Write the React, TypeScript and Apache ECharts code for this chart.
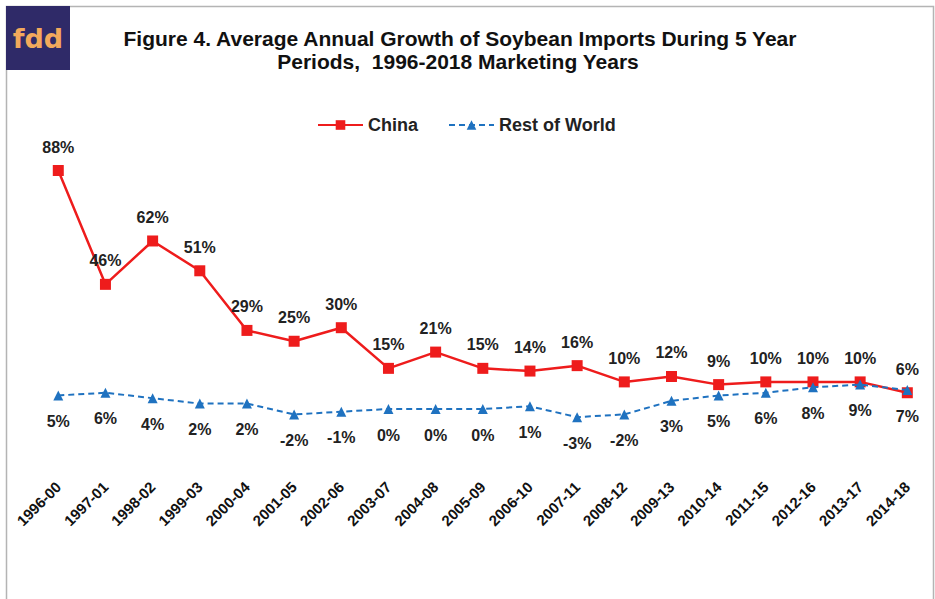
import React, { useEffect, useRef } from "react";
import * as echarts from "echarts";

// Five-year marketing-year windows
const periods = [
  "1996-00", "1997-01", "1998-02", "1999-03", "2000-04", "2001-05", "2002-06",
  "2003-07", "2004-08", "2005-09", "2006-10", "2007-11", "2008-12", "2009-13",
  "2010-14", "2011-15", "2012-16", "2013-17", "2014-18",
];

// Average annual growth of soybean imports, percent
const chinaGrowth = [88, 46, 62, 51, 29, 25, 30, 15, 21, 15, 14, 16, 10, 12, 9, 10, 10, 10, 6];
const restOfWorldGrowth = [5, 6, 4, 2, 2, -2, -1, 0, 0, 0, 1, -3, -2, 3, 5, 6, 8, 9, 7];

const titleLines = [
  "Figure 4. Average Annual Growth of Soybean Imports During 5 Year",
  "Periods,  1996-2018 Marketing Years",
];

const RED = "#ee1c1c";
const BLUE = "#1f72c0";
const FONT = "'Liberation Sans', Arial, sans-serif";

export default function App() {
  const ref = useRef<HTMLDivElement>(null);

  useEffect(() => {
    if (!ref.current) return;
    const chart = echarts.init(ref.current, undefined, { renderer: "svg" });
    chart.setOption({
      animation: false,
      backgroundColor: "#ffffff",
      textStyle: { fontFamily: FONT },
      graphic: [
        // frame around the figure
        {
          type: "polyline",
          shape: { points: [[6.5, 599], [6.5, 6.5], [933.5, 6.5], [933.5, 599]] },
          style: { stroke: "#b4b4b4", lineWidth: 1.5, fill: "none" },
          z: 0,
        },
        // logo block
        {
          type: "rect",
          shape: { x: 6, y: 6, width: 64, height: 64 },
          style: { fill: "#2f2a68" },
          z: 5,
        },
        {
          type: "text",
          x: 38,
          y: 38,
          style: {
            text: "fdd",
            fill: "#f2a95c",
            font: "bold 27px 'DejaVu Sans', sans-serif",
            align: "center",
            verticalAlign: "middle",
          },
          z: 6,
        },
        {
          type: "text",
          x: 460,
          y: 38,
          style: {
            text: titleLines[0],
            fill: "#111111",
            font: `bold 21px ${FONT}`,
            align: "center",
            verticalAlign: "middle",
          },
        },
        {
          type: "text",
          x: 458,
          y: 61,
          style: {
            text: titleLines[1],
            fill: "#111111",
            font: `bold 21px ${FONT}`,
            align: "center",
            verticalAlign: "middle",
          },
        },
      ],
      legend: {
        left: 312,
        top: 111,
        itemWidth: 45,
        itemHeight: 12,
        itemGap: 30,
        textStyle: { fontSize: 18, fontWeight: "bold", color: "#222222", fontFamily: FONT },
        data: ["China", "Rest of World"],
      },
      grid: { left: 34.7, right: 4.1, top: 165.1, bottom: 135.8, containLabel: false },
      xAxis: {
        type: "category",
        data: periods,
        boundaryGap: true,
        axisLine: { show: false },
        axisTick: { show: false },
        axisLabel: {
          rotate: 45,
          margin: 21,
          interval: 0,
          fontSize: 15,
          fontWeight: "bold",
          color: "#111111",
          fontFamily: FONT,
        },
      },
      yAxis: {
        type: "value",
        min: -20,
        max: 90,
        show: false,
        splitLine: { show: false },
      },
      series: [
        {
          name: "China",
          type: "line",
          data: chinaGrowth,
          color: RED,
          symbol: "rect",
          symbolSize: 11,
          lineStyle: { width: 2.5, color: RED },
          itemStyle: { color: RED },
          label: {
            show: true,
            position: "top",
            distance: 10,
            formatter: "{c}%",
            fontSize: 16,
            fontWeight: "bold",
            color: "#222222",
            fontFamily: FONT,
          },
          z: 2,
        },
        {
          name: "Rest of World",
          type: "line",
          data: restOfWorldGrowth,
          color: BLUE,
          symbol: "triangle",
          symbolSize: 10,
          lineStyle: { width: 2, color: BLUE, type: [6, 4] },
          itemStyle: { color: BLUE },
          label: {
            show: true,
            position: "bottom",
            distance: 13,
            formatter: "{c}%",
            fontSize: 16,
            fontWeight: "bold",
            color: "#222222",
            fontFamily: FONT,
          },
          z: 3,
        },
      ],
    });
    return () => chart.dispose();
  }, []);

  return (
    <div
      ref={ref}
      style={{ position: "fixed", left: 0, top: 0, width: 935, height: 599 }}
    />
  );
}
